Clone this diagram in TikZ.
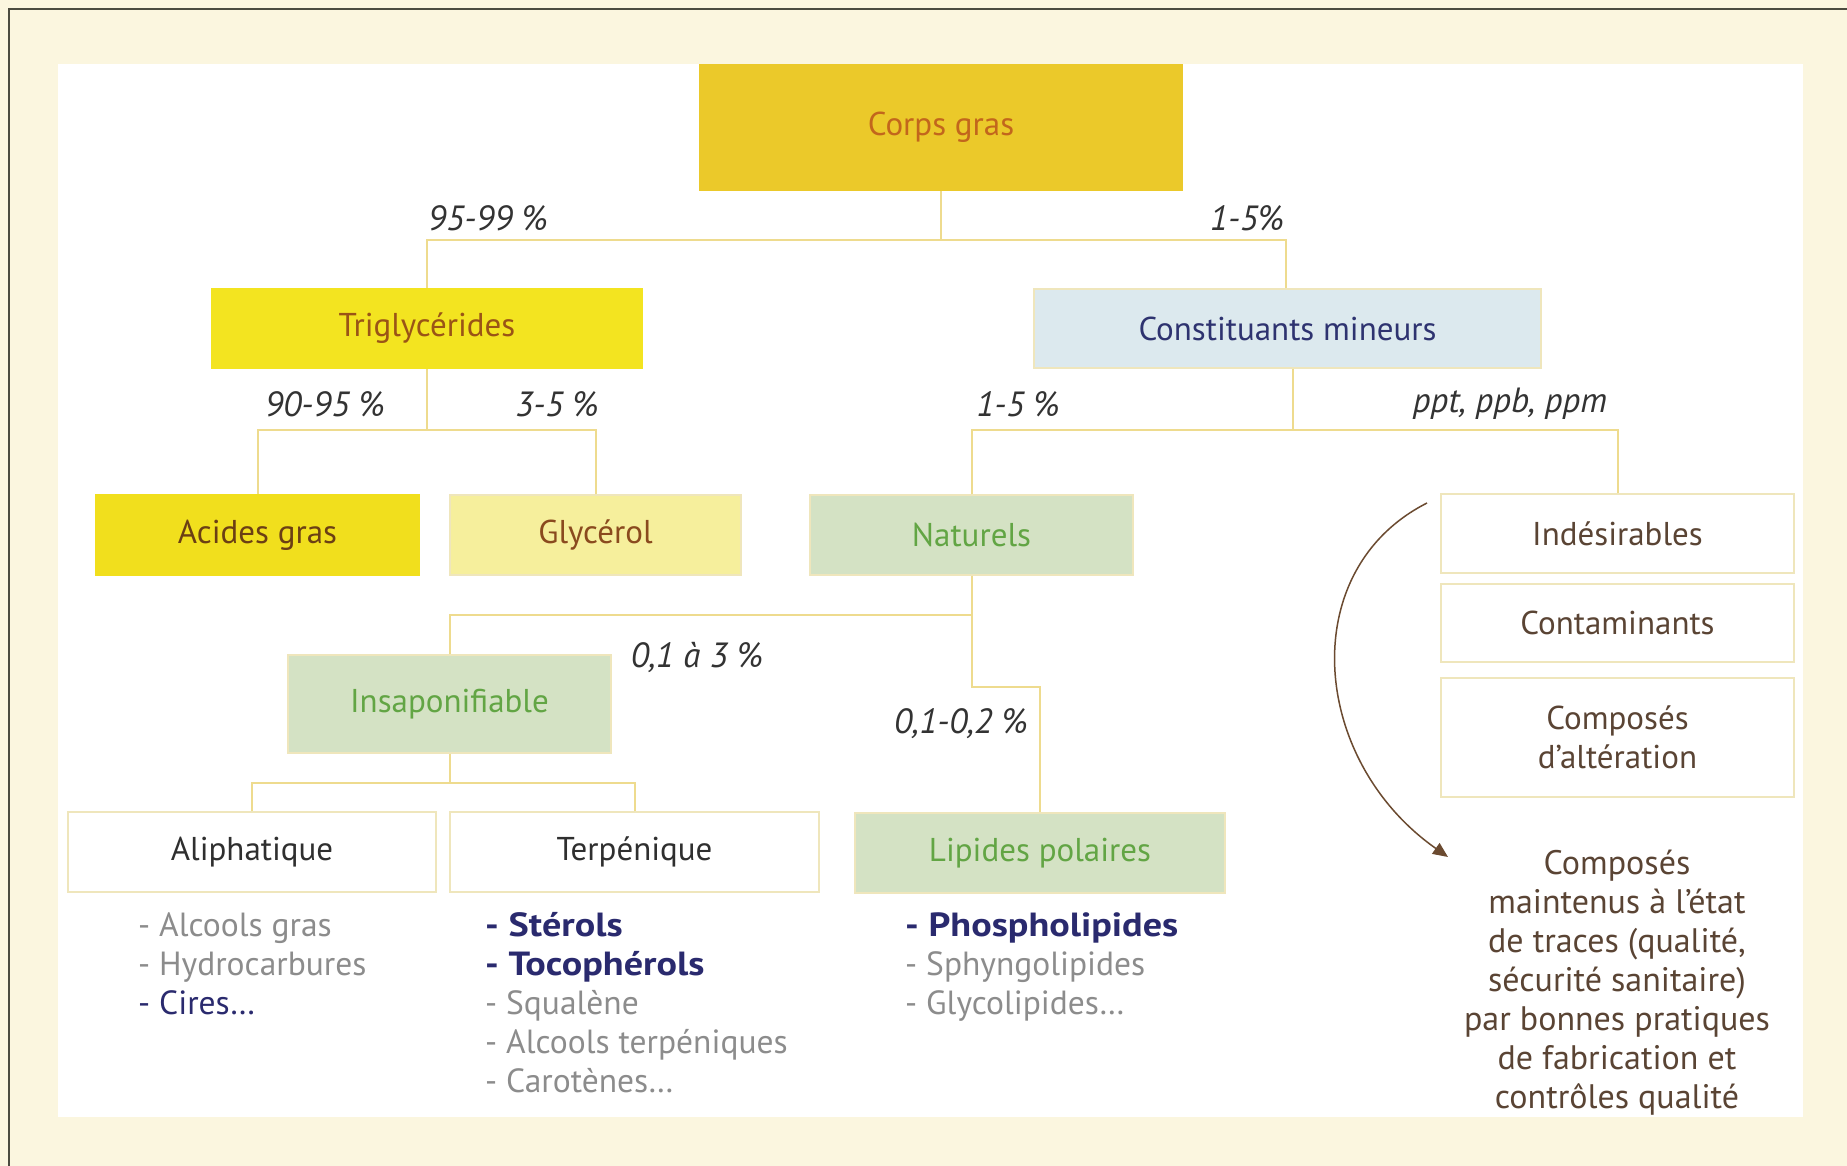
\documentclass[tikz,border=0pt]{standalone}
\usepackage{fontspec}
\setmainfont{PT Sans}
\newfontface\widebold{PT Sans Bold}[FakeStretch=1.14]
\usetikzlibrary{arrows.meta}
\definecolor{cream}{HTML}{FBF6DF}
\definecolor{framec}{HTML}{4B4B3F}
\definecolor{conn}{HTML}{EEDB8E}
\definecolor{bord}{HTML}{EFE6BC}
\definecolor{corpsfill}{HTML}{EBC92A}
\definecolor{corpstext}{HTML}{C2661C}
\definecolor{trigfill}{HTML}{F3E420}
\definecolor{trigtext}{HTML}{9A5416}
\definecolor{acfill}{HTML}{F1DF1D}
\definecolor{actext}{HTML}{6B3F14}
\definecolor{glyfill}{HTML}{F6EF9C}
\definecolor{glytext}{HTML}{8A4A1E}
\definecolor{constfill}{HTML}{DCE9EE}
\definecolor{consttext}{HTML}{2E3370}
\definecolor{sage}{HTML}{D4E2C4}
\definecolor{sagetext}{HTML}{62A544}
\definecolor{browntext}{HTML}{5A4434}
\definecolor{darktext}{HTML}{2F2F2F}
\definecolor{pcttext}{HTML}{333333}
\definecolor{listgray}{HTML}{8C8C8C}
\definecolor{navy}{HTML}{2A2A6E}
\definecolor{arrowc}{HTML}{6B4A30}
\tikzset{
  box/.style={rectangle, inner sep=0pt, align=center, line width=1.5pt,
    font=\fontsize{33}{39}\selectfont},
  connector/.style={draw=conn, line width=2pt},
  pct/.style={inner sep=0pt, text=pcttext, font=\fontsize{35}{40}\selectfont\itshape},
  listtxt/.style={inner sep=0pt, align=left, anchor=north west, text=listgray,
    font=\fontsize{33.5}{39}\selectfont},
}
\newcommand{\nb}[1]{\textcolor{navy}{\widebold #1}}
\begin{document}
\begin{tikzpicture}[x=1pt,y=-1pt]
\useasboundingbox (0,0) rectangle (1847,1166);
\fill[cream] (0,0) rectangle (1847,1166);
\draw[framec, line width=2.5pt] (1847,9) -- (9,9) -- (9,1166);
\fill[white] (58,64) rectangle (1803,1117);

% nodes
\node[box, fill=corpsfill, draw=corpsfill, text=corpstext, minimum width=483pt, minimum height=125pt] (corps) at (941,127.5) {Corps gras};
\node[box, fill=trigfill, draw=trigfill, text=trigtext, minimum width=430pt, minimum height=79pt] (trig) at (427,328.5) {Triglycérides};
\node[box, fill=constfill, draw=bord, text=consttext, minimum width=507pt, minimum height=79pt] (const) at (1287.5,328.5) {Constituants mineurs};
\node[box, fill=acfill, draw=acfill, text=actext, minimum width=323pt, minimum height=80pt] (acides) at (257.5,535) {Acides gras};
\node[box, fill=glyfill, draw=bord, text=glytext, minimum width=291pt, minimum height=80pt] (glyc) at (595.5,535) {Glycérol};
\node[box, fill=sage, draw=bord, text=sagetext, minimum width=323pt, minimum height=80pt] (nat) at (971.5,535) {Naturels};
\node[box, fill=white, draw=bord, text=browntext, minimum width=353pt, minimum height=79pt] (indes) at (1617.5,533.5) {Indésirables};
\node[box, fill=white, draw=bord, text=browntext, minimum width=353pt, minimum height=78pt] (contam) at (1617.5,623) {Contaminants};
\node[box, fill=white, draw=bord, text=browntext, minimum width=353pt, minimum height=119pt] (alter) at (1617.5,737.5) {Composés\\d’altération};
\node[box, fill=sage, draw=bord, text=sagetext, minimum width=323pt, minimum height=98pt] (insap) at (449.5,704) {Insaponifiable};
\node[box, fill=white, draw=bord, text=darktext, minimum width=368pt, minimum height=80pt] (aliph) at (252,852) {Aliphatique};
\node[box, fill=white, draw=bord, text=darktext, minimum width=369pt, minimum height=80pt] (terp) at (634.5,852) {Terpénique};
\node[box, fill=sage, draw=bord, text=sagetext, minimum width=370pt, minimum height=80pt] (lip) at (1040,853) {Lipides polaires};

% connectors
\coordinate (j1) at (941,240);
\draw[connector] (corps.south) -- (j1);
\draw[connector] (trig.north) |- (j1);
\draw[connector] ([xshift=-2pt]const.north) |- (j1);
\coordinate (j2) at (trig.south |- 0,430);
\draw[connector] (trig.south) -- (j2);
\draw[connector] (acides.north) |- (j2);
\draw[connector] (glyc.north) |- (j2);
\coordinate (j3) at ([xshift=5pt]const.south |- 0,430);
\draw[connector] ([xshift=5pt]const.south) -- (j3);
\draw[connector] (nat.north) |- (j3);
\draw[connector] (indes.north) |- (j3);
\coordinate (j4) at (nat.south |- 0,615);
\draw[connector] (nat.south) -- (j4);
\draw[connector] (insap.north) |- (j4);
\coordinate (j6) at (nat.south |- 0,687);
\draw[connector] (j4) -- (j6) -| (lip.north);
\coordinate (j5) at (insap.south |- 0,783);
\draw[connector] (insap.south) -- (j5);
\draw[connector] (aliph.north) |- (j5);
\draw[connector] (terp.north) |- (j5);

% percentage labels
\node[pct] (p1) at (488,218) {95-99 \%};
\node[pct] (p2) at (1247,218) {1-5\%};
\node[pct] (p3) at (325,404) {90-95 \%};
\node[pct] (p4) at (557,404) {3-5 \%};
\node[pct] (p5) at (1018,404) {1-5 \%};
\node[pct] (p6) at (1510,404) {ppt, ppb, ppm};
\node[pct] (p7) at (697,658) {0,1 à 3 \%};
\node[pct] (p8) at (961,724) {0,1-0,2 \%};

% lists
\node[listtxt] (l1) at (138,912) {- Alcools gras\\- Hydrocarbures\\\textcolor{navy}{- Cires…}};
\node[listtxt] (l2) at (485,912) {\nb{- Stérols}\\\nb{- Tocophérols}\\- Squalène\\- Alcools terpéniques\\- Carotènes…};
\node[listtxt] (l3) at (905,912) {\nb{- Phospholipides}\\- Sphyngolipides\\- Glycolipides…};

% right text
\node[inner sep=0pt, align=center, text=browntext, font=\fontsize{34}{39}\selectfont] (traces) at (1617,983)
  {Composés\\maintenus à l’état\\de traces (qualité,\\sécurité sanitaire)\\par bonnes pratiques\\de fabrication et\\contrôles qualité};

% arrow
\coordinate (a1) at (1427,503);
\coordinate (a2) at (1448,857);
\draw[arrowc, line width=1.5pt, -{Triangle[length=15pt,width=13pt]}] (a1) .. controls (1295,570) and (1310,760) .. (a2);
\end{tikzpicture}
\end{document}
